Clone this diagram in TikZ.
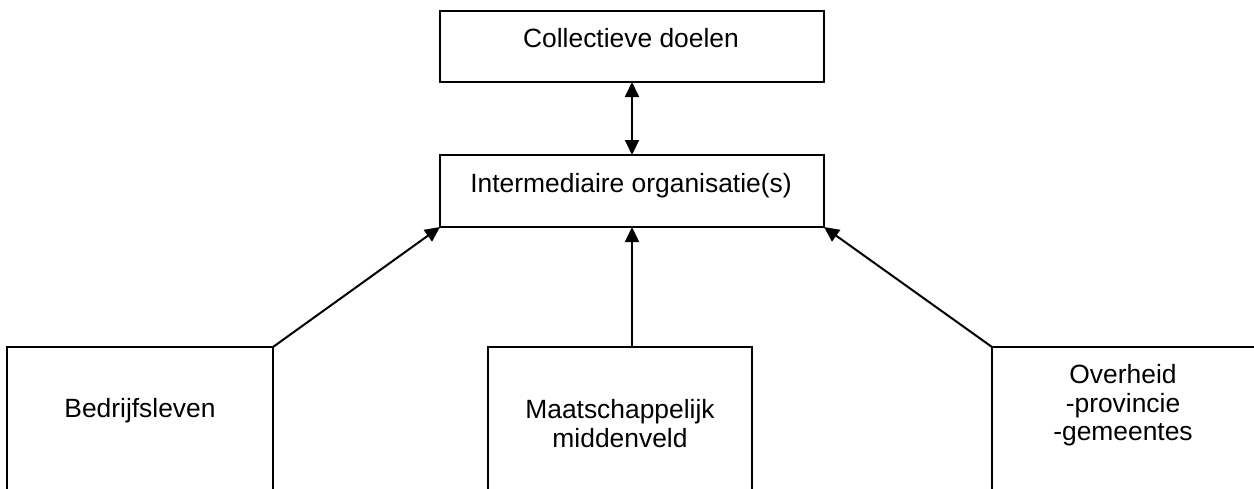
\documentclass[tikz,border=0pt]{standalone}
\usepackage{fontspec}
\setmainfont{Liberation Sans}
\usetikzlibrary{arrows.meta}
\begin{document}
\begin{tikzpicture}[x=1pt,y=-1pt,
  box/.style={draw=black,line width=2pt,fill=none,inner sep=0pt,outer sep=0pt},
  lbl/.style={anchor=base,inner sep=0pt,font=\fontsize{26.4}{28.5}\selectfont,align=center},
  conn/.style={draw=black,line width=2pt,-{Triangle[length=15pt,width=14pt]}},
  conn2/.style={draw=black,line width=2pt,{Triangle[length=15pt,width=14pt]}-{Triangle[length=15pt,width=14pt]}}]
\useasboundingbox (0,0) rectangle (1254,488);
\clip (0,0) rectangle (1254,488);
% boxes
\node[box,minimum width=384pt,minimum height=71pt] (top) at (632,46.5) {};
\node[box,minimum width=384pt,minimum height=72pt] (int) at (632,191) {};
\node[box,minimum width=266pt,minimum height=160pt] (b1) at (140,427) {};
\node[box,minimum width=264pt,minimum height=160pt] (b2) at (620,427) {};
\node[box,minimum width=270pt,minimum height=160pt] (b3) at (1127,427) {};
% labels
\node[lbl] (tTop) at (631,47) {Collectieve doelen};
\node[lbl] (tInt) at (631,192) {Intermediaire organisatie(s)};
\node[lbl] (tB1) at (140,417) {Bedrijfsleven};
\node[lbl,anchor=base] (tB2a) at (620,418) {Maatschappelijk};
\node[lbl,anchor=base] (tB2b) at (620,447) {middenveld};
\node[lbl,anchor=base] (tB3a) at (1123,383) {Overheid};
\node[lbl,anchor=base] (tB3b) at (1123,412) {-provincie};
\node[lbl,anchor=base] (tB3c) at (1123,440) {-gemeentes};
% connectors
\draw[conn2] (top.south) -- (int.north);
\draw[conn] (b1.north east) -- (int.south west);
\draw[conn] (int.south |- b2.north) -- (int.south);
\draw[conn] (b3.north west) -- (int.south east);
\end{tikzpicture}
\end{document}
